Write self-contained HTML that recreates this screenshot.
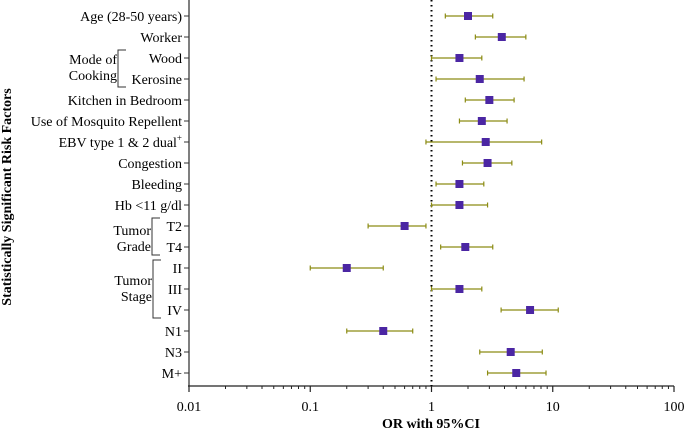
<!DOCTYPE html>
<html><head><meta charset="utf-8"><style>
body{margin:0;background:#fff;}
svg{display:block;}
text{font-family:"Liberation Serif","Times New Roman",Times,"DejaVu Serif",serif;}
</style></head><body>
<svg id="chart" width="685" height="435"></svg>
<script>
const labels=["Age (28-50 years)","Worker","Wood","Kerosine","Kitchen in Bedroom","Use of Mosquito Repellent","EBV type 1 & 2 dual","Congestion","Bleeding","Hb <11 g/dl","T2","T4","II","III","IV","N1","N3","M+"];
const orValues=[2.0,3.8,1.7,2.5,3.0,2.6,2.8,2.9,1.7,1.7,0.6,1.9,0.2,1.7,6.5,0.4,4.5,5.0];
const ciLow=[1.3,2.3,1.0,1.09,1.9,1.7,0.9,1.8,1.09,1.0,0.3,1.19,0.1,1.0,3.75,0.2,2.5,2.9];
const ciHigh=[3.2,6.0,2.6,5.8,4.8,4.2,8.1,4.6,2.7,2.9,0.9,3.2,0.4,2.6,11.1,0.7,8.2,8.8];
const tickValues=[0.01,0.1,1,10,100];
const tickLabels=["0.01","0.1","1","10","100"];

const NS="http://www.w3.org/2000/svg";
const svg=document.getElementById('chart');
const X0=189,X1=674,AXY=386,FS=14;
const xs=v=>X0+(Math.log10(v)+2)/4*(X1-X0);
const ys=i=>16+i*21;
function mk(t,a,p){const e=document.createElementNS(NS,t);for(const k in a)e.setAttribute(k,a[k]);(p||svg).appendChild(e);return e;}

const ax=mk('line',{x1:X0,y1:0,x2:X0,y2:AXY,stroke:'#555','stroke-width':1.5});


const bx=mk('line',{x1:X0-1,y1:AXY,x2:X1,y2:AXY,stroke:'#222','stroke-width':1.2});


for(let d=-2;d<2;d++){for(let m=2;m<=9;m++){const x=xs(m*Math.pow(10,d));mk('line',{x1:x,y1:AXY,x2:x,y2:AXY+3,stroke:'#222','stroke-width':1});}}
tickValues.forEach((v,i)=>{const x=xs(v);mk('line',{x1:x,y1:AXY,x2:x,y2:AXY+6,stroke:'#222','stroke-width':1.2});
const t=mk('text',{x:x,y:AXY+25,'text-anchor':'middle','font-size':FS});t.textContent=tickLabels[i];

});
const rl=mk('line',{x1:xs(1),y1:0,x2:xs(1),y2:AXY,stroke:'#000','stroke-width':2,'stroke-dasharray':'1.5,3.5'});


labels.forEach((l,i)=>{const y=ys(i);mk('line',{x1:X0-5,y1:y,x2:X0,y2:y,stroke:'#333','stroke-width':1});
const t=mk('text',{x:X0-7,y:y+5,'text-anchor':'end','font-size':FS});t.textContent=l;
if(i===6){const s=mk('tspan',{dy:-6,'font-size':9},t);s.textContent='+';}

});
function group(a,b,bx,lines,first){const y1=ys(a)-8,y2=ys(b)+8;
mk('path',{d:`M${bx+8},${y1} H${bx} V${y2} H${bx+8}`,fill:'none',stroke:'#333','stroke-width':1});
lines.forEach((s,k)=>{const t=mk('text',{x:bx-1,y:first+k*16,'text-anchor':'end','font-size':FS});t.textContent=s;

});}
group(2,3,118,["Mode of","Cooking"],64);
group(10,11,152,["Tumor","Grade"],235);
group(12,14,153,["Tumor","Stage"],285);
labels.forEach((l,i)=>{const y=ys(i);
const g=mk('line',{x1:xs(ciLow[i]),y1:y,x2:xs(ciHigh[i]),y2:y,stroke:'#8c8c14','stroke-width':1.3});


[ciLow[i],ciHigh[i]].forEach(v=>mk('line',{x1:xs(v),y1:y-2.5,x2:xs(v),y2:y+2.5,stroke:'#8c8c14','stroke-width':1.2}));
const r=mk('rect',{x:xs(orValues[i])-4,y:y-4,width:8,height:8,fill:'#4b26a3'});

});
const xt=mk('text',{x:431,y:428,'text-anchor':'middle','font-size':FS,'font-weight':'bold'});xt.textContent='OR with 95%CI';


const yt=mk('text',{x:0,y:0,'text-anchor':'middle','font-size':FS,'font-weight':'bold',transform:'translate(11,197) rotate(-90)'});yt.textContent='Statistically Significant Risk Factors';


</script>
</body></html>
